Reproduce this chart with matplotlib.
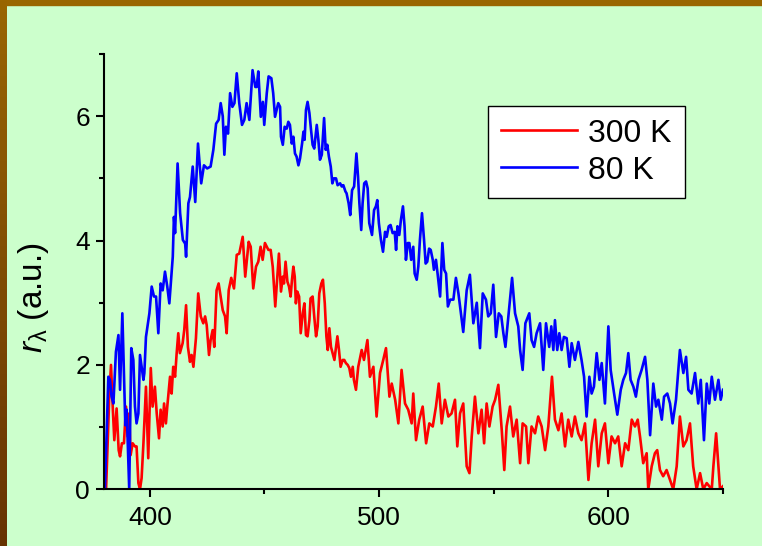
import numpy as np
import matplotlib
matplotlib.use("Agg")
import matplotlib.pyplot as plt
from matplotlib.colors import LinearSegmentedColormap
from matplotlib.patches import Rectangle
from matplotlib.ticker import MultipleLocator

plt.rcParams["font.family"] = ["Liberation Sans", "DejaVu Sans"]
plt.rcParams["mathtext.fontset"] = "custom"
plt.rcParams["mathtext.rm"] = "Liberation Sans"
plt.rcParams["mathtext.it"] = "Liberation Sans:italic"

# spectra: wavelength (nm) and r_lambda (a.u.)
wl_300 = [
    380.9, 381.45, 382.3, 383.05, 383.8, 384.5, 385.5, 386.4, 387.0, 387.8,
    388.7, 389.6, 390.3, 391.0, 391.6, 392.5, 393.5, 394.2, 395.0, 395.7,
    396.4, 397.2, 397.6, 398.3, 399.3, 400.4, 401.2, 402.2, 403.0, 404.0,
    404.7, 405.6, 406.2, 407.0, 407.6, 408.8, 409.5, 410.2, 411.0, 411.7,
    412.4, 413.1, 414.3, 415.0, 415.8, 416.6, 417.5, 418.2, 419.0, 420.1,
    421.1, 422.2, 423.3, 424.1, 424.8, 425.8, 426.5, 427.4, 428.1, 429.1,
    430.0, 430.9, 431.8, 432.8, 433.5, 434.4, 435.5, 436.7, 437.9, 439.0,
    440.5, 441.6, 443.1, 444.0, 445.1, 446.3, 447.3, 448.3, 449.2, 450.2,
    451.7, 452.7, 453.6, 454.7, 456.3, 457.2, 458.0, 458.5, 459.2, 460.0,
    460.7, 461.4, 462.0, 462.6, 463.2, 463.7, 464.3, 465.1, 465.8, 466.7,
    467.4, 468.1, 468.8, 469.6, 470.1, 471.0, 471.7, 472.5, 473.2, 473.9,
    474.8, 475.5, 476.3, 477.0, 477.6, 478.3, 479.0, 479.7, 480.5, 481.2,
    481.8, 482.5, 483.2, 484.1, 484.8, 485.5, 486.3, 487.0, 487.7, 488.5,
    489.0, 489.9, 490.9, 492.4, 493.4, 494.9, 496.0, 497.5, 498.9, 500.4,
    501.8, 503.0, 504.5, 505.5, 507.0, 508.4, 509.8, 511.3, 512.7, 514.2,
    514.9, 516.1, 517.5, 519.0, 520.5, 521.9, 523.4, 524.8, 526.0, 527.3,
    528.7, 530.2, 531.6, 533.1, 534.1, 535.3, 536.7, 538.2, 539.4, 540.4,
    541.8, 543.3, 544.7, 545.8, 546.9, 548.1, 549.5, 550.6, 552.0, 553.5,
    554.6, 555.6, 557.1, 558.5, 560.0, 561.5, 562.6, 564.1, 565.1, 566.5,
    568.0, 569.4, 570.9, 572.4, 573.8, 575.4, 576.7, 578.2, 579.6, 581.1,
    582.5, 584.0, 585.4, 586.9, 588.3, 589.8, 591.3, 592.7, 594.2, 595.6,
    597.1, 598.5, 600.0, 601.4, 602.9, 604.3, 605.8, 607.3, 608.7, 610.2,
    611.6, 612.8, 613.8, 615.2, 616.7, 617.4, 618.9, 620.3, 621.3, 622.5,
    623.9, 625.4, 626.9, 628.3, 629.8, 631.2, 632.7, 634.1, 635.6, 637.0,
    638.5, 640.0, 641.4, 642.9, 645.1, 645.8, 647.0, 648.0, 648.7, 650.0,
]
r_300 = [
    0.00, 0.58, 1.49, 2.00, 1.33, 0.79, 1.30, 0.63, 0.53, 0.74,
    0.74, 1.33, 0.85, 1.22, 0.55, 0.74, 0.69, 0.69, 0.10, 0.00,
    0.18, 0.74, 1.06, 1.65, 0.50, 1.95, 1.33, 1.65, 1.22, 0.82,
    1.28, 1.01, 1.38, 1.06, 1.33, 1.81, 1.54, 1.97, 1.81, 2.19,
    2.51, 2.19, 2.35, 2.56, 2.96, 2.29, 2.05, 2.16, 1.97, 2.43,
    3.15, 2.78, 2.67, 2.78, 2.64, 2.16, 2.40, 2.56, 2.29, 3.20,
    3.31, 3.10, 2.88, 2.78, 2.51, 3.20, 3.40, 3.23, 3.77, 3.79,
    4.06, 3.42, 3.98, 3.90, 3.23, 3.58, 3.66, 3.90, 3.69, 3.96,
    3.85, 3.85, 3.58, 2.94, 3.79, 3.18, 3.42, 3.31, 3.66, 3.34,
    3.26, 3.10, 3.37, 3.58, 3.42, 2.99, 3.18, 3.10, 2.51, 2.83,
    2.99, 2.48, 2.46, 2.72, 3.07, 3.10, 2.78, 2.46, 2.62, 3.15,
    3.31, 3.37, 2.99, 2.46, 2.24, 2.59, 2.29, 2.19, 2.08, 2.29,
    2.46, 2.24, 1.97, 2.08, 2.08, 2.03, 2.00, 1.95, 1.81, 1.97,
    1.76, 1.60, 1.97, 2.24, 2.08, 2.40, 1.81, 1.97, 1.17, 1.87,
    2.08, 2.27, 1.49, 1.70, 1.44, 1.06, 1.92, 1.38, 1.28, 1.06,
    1.54, 0.79, 1.12, 1.33, 0.74, 1.06, 1.01, 1.33, 1.70, 1.06,
    1.44, 1.17, 1.22, 1.44, 0.69, 1.22, 1.38, 0.37, 0.26, 0.85,
    1.49, 0.90, 1.28, 0.74, 1.38, 1.01, 1.33, 1.44, 1.68, 0.95,
    0.31, 1.01, 1.33, 0.85, 1.12, 0.42, 1.06, 1.01, 0.42, 1.01,
    0.90, 1.17, 1.01, 0.63, 1.01, 1.81, 1.12, 0.95, 1.22, 0.69,
    1.12, 0.85, 1.17, 0.90, 0.79, 1.06, 0.15, 0.74, 1.12, 0.37,
    0.90, 1.06, 0.42, 0.85, 0.74, 0.85, 0.37, 0.74, 0.63, 1.12,
    1.01, 1.12, 0.85, 0.42, 0.58, 0.00, 0.37, 0.58, 0.63, 0.31,
    0.21, 0.31, 0.15, 0.00, 0.37, 1.17, 0.69, 0.79, 1.06, 0.37,
    0.00, 0.26, 0.00, 0.10, 0.00, 0.37, 0.90, 0.37, 0.00, 0.05,
]

wl_80 = [
    380.4, 381.9, 382.6, 383.3, 384.1, 385.2, 386.3, 387.0, 388.0, 388.7,
    389.3, 389.9, 390.5, 391.0, 391.9, 392.8, 393.5, 394.2, 395.0, 395.7,
    396.4, 397.2, 397.6, 398.3, 399.8, 400.8, 401.8, 402.7, 403.7, 404.7,
    405.6, 406.6, 407.6, 408.5, 410.0, 410.5, 411.0, 412.1, 413.2, 414.4,
    415.4, 415.8, 416.8, 417.5, 418.7, 419.8, 421.0, 422.4, 423.6, 425.0,
    426.5, 427.7, 428.9, 430.0, 430.9, 431.8, 432.5, 433.2, 434.1, 435.0,
    436.0, 436.9, 437.9, 439.0, 440.2, 441.2, 442.2, 443.4, 444.8, 446.0,
    446.6, 447.3, 448.4, 449.3, 449.9, 451.0, 451.8, 453.0, 453.8, 454.6,
    456.0, 456.8, 457.2, 458.0, 458.8, 459.7, 460.4, 461.1, 461.9, 462.6,
    463.3, 464.0, 464.8, 465.5, 466.4, 467.0, 467.5, 468.1, 468.8, 469.6,
    470.3, 471.0, 471.7, 472.8, 473.5, 474.2, 475.0, 476.0, 476.7, 477.4,
    478.1, 478.9, 479.6, 480.3, 481.2, 481.9, 483.0, 483.7, 484.4, 485.3,
    485.8, 486.7, 487.4, 488.2, 489.1, 490.1, 490.8, 491.4, 492.2, 492.8,
    493.5, 494.3, 495.0, 495.7, 496.9, 497.8, 498.6, 499.2, 499.9, 500.8,
    501.7, 502.6, 503.3, 504.2, 505.0, 505.9, 506.8, 507.4, 508.0, 508.8,
    509.5, 510.4, 511.1, 511.7, 512.5, 513.2, 514.0, 514.9, 515.5, 516.4,
    517.1, 517.8, 518.7, 519.6, 520.3, 521.0, 521.8, 522.5, 523.4, 523.9,
    524.8, 525.5, 526.6, 527.6, 528.4, 529.2, 530.0, 531.0, 532.4, 533.5,
    534.6, 536.7, 538.2, 539.6, 541.1, 542.6, 544.0, 545.2, 546.6, 547.6,
    548.7, 549.8, 551.0, 552.2, 553.3, 554.2, 555.1, 556.4, 558.0, 559.3,
    560.7, 561.5, 562.6, 563.8, 565.5, 566.5, 567.6, 568.7, 570.2, 571.6,
    572.8, 574.2, 575.1, 576.0, 576.7, 577.7, 578.6, 579.6, 580.6, 581.8,
    583.0, 584.0, 585.4, 586.9, 588.3, 589.4, 590.5, 591.7, 592.7, 593.7,
    594.9, 596.1, 597.1, 598.5, 600.0, 601.0, 602.5, 603.9, 605.4, 606.5,
    607.7, 608.7, 609.7, 610.9, 612.0, 613.1, 614.5, 616.0, 617.0, 618.2,
    619.6, 620.8, 621.8, 623.3, 624.3, 625.7, 626.9, 628.0, 629.5, 631.2,
    632.7, 633.9, 634.9, 636.3, 637.8, 639.2, 640.3, 641.7, 642.9, 644.0,
    645.1, 646.5, 648.0, 649.0, 650.0,
]
r_80 = [
    0.00, 1.81, 1.76, 1.49, 1.38, 2.21, 2.48, 1.60, 2.83, 1.87,
    1.03, 1.28, 0.58, 0.00, 2.27, 2.08, 1.33, 1.06, 1.22, 2.16,
    1.97, 1.76, 1.87, 2.45, 2.83, 3.26, 3.10, 3.10, 2.51, 3.31,
    3.20, 3.50, 3.26, 2.99, 3.74, 4.38, 4.12, 5.24, 4.44, 4.01,
    3.95, 3.74, 4.60, 4.70, 5.19, 4.62, 5.56, 4.92, 5.21, 5.16,
    5.19, 5.46, 5.88, 5.94, 6.21, 6.00, 5.38, 5.83, 5.72, 6.37,
    6.15, 6.21, 6.69, 6.21, 5.86, 5.94, 6.21, 5.94, 6.74, 6.47,
    6.47, 6.72, 5.99, 6.23, 5.86, 6.37, 6.64, 6.61, 6.37, 5.99,
    6.21, 6.15, 5.67, 5.54, 5.83, 5.80, 5.91, 5.86, 5.56, 5.67,
    5.40, 5.35, 5.21, 5.32, 5.56, 5.75, 5.62, 6.10, 6.23, 6.05,
    5.78, 5.54, 5.48, 5.86, 5.62, 5.30, 5.38, 5.97, 5.46, 5.54,
    5.35, 5.19, 4.92, 5.00, 5.00, 4.89, 4.92, 4.87, 4.89, 4.79,
    4.76, 4.60, 4.41, 4.81, 4.87, 5.40, 5.03, 4.60, 4.17, 4.60,
    4.92, 4.95, 4.84, 4.28, 4.09, 4.49, 4.55, 4.65, 4.28, 4.01,
    3.82, 4.14, 4.06, 4.23, 4.25, 4.12, 4.14, 3.85, 4.23, 4.09,
    4.33, 4.55, 4.23, 3.69, 3.96, 3.96, 3.69, 3.90, 3.47, 3.37,
    3.58, 4.01, 4.44, 4.01, 3.63, 3.66, 3.87, 3.85, 3.69, 3.53,
    3.69, 3.47, 3.10, 3.96, 3.53, 3.47, 2.94, 3.05, 3.05, 3.40,
    3.15, 2.53, 3.20, 3.45, 2.67, 3.00, 2.27, 3.15, 3.05, 2.78,
    2.83, 3.29, 2.45, 2.83, 2.78, 2.51, 2.29, 2.78, 3.40, 2.83,
    2.62, 2.24, 1.92, 2.67, 2.83, 2.40, 2.29, 2.51, 2.67, 1.92,
    2.67, 2.29, 2.62, 2.24, 2.72, 2.24, 2.51, 2.24, 2.45, 2.43,
    1.97, 2.35, 2.08, 2.37, 2.08, 1.81, 1.17, 1.81, 1.54, 1.65,
    2.19, 1.76, 2.03, 1.38, 2.62, 1.92, 1.54, 1.20, 1.60, 1.76,
    1.87, 2.19, 1.76, 1.65, 1.49, 1.76, 1.92, 2.13, 1.76, 0.87,
    1.70, 1.33, 1.44, 1.12, 1.49, 1.54, 1.38, 1.06, 1.44, 2.24,
    1.87, 2.13, 1.60, 1.54, 1.87, 1.38, 1.76, 0.79, 1.70, 1.38,
    1.81, 1.44, 1.76, 1.44, 1.60,
]
assert len(wl_300) == len(r_300) and len(wl_80) == len(r_80)

bg_green = "#ccffcc"

fig = plt.figure(figsize=(7.62, 5.46), dpi=100, facecolor=bg_green)

# brown frame: solid strip on top, darkening strip on the left
fig.add_artist(Rectangle((0, 1 - 5 / 546), 1, 5 / 546, transform=fig.transFigure,
                         color="#996600", zorder=0))
edge_ax = fig.add_axes([0, 0, 7 / 762, 1])
edge_cmap = LinearSegmentedColormap.from_list("edge", ["#996600", "#663300"])
edge_ax.imshow(np.linspace(0, 1, 256).reshape(-1, 1), aspect="auto", cmap=edge_cmap)
edge_ax.axis("off")

ax = fig.add_axes([104 / 762, 1 - 489.3 / 546, 619 / 762, 435.3 / 546])
ax.set_facecolor(bg_green)
ax.plot(wl_300, r_300, color="#ff0000", lw=1.9, label="300 K")
ax.plot(wl_80, r_80, color="#0000ff", lw=1.9, label="80 K")

ax.set_xlim(380, 650)
ax.set_ylim(0, 7)
ax.xaxis.set_major_locator(MultipleLocator(100))
ax.xaxis.set_minor_locator(MultipleLocator(50))
ax.yaxis.set_major_locator(MultipleLocator(2))
ax.yaxis.set_minor_locator(MultipleLocator(1))

for side in ["top", "right"]:
    ax.spines[side].set_visible(False)
for side in ["left", "bottom"]:
    ax.spines[side].set_linewidth(1.5)
    ax.spines[side].set_color("black")

ax.tick_params(which="major", direction="out", length=6, width=1.5, labelsize=19)
ax.tick_params(which="minor", direction="out", length=3.5, width=1.5)
ax.tick_params(axis="x", which="major", pad=6)
ax.tick_params(axis="y", which="major", pad=4)

ax.set_ylabel(r"$r_{\mathrm{\lambda}}$ (a.u.)", fontsize=24)
ax.yaxis.set_label_coords(-0.086, 0.44)

leg = ax.legend(loc="upper left", bbox_to_anchor=(0.620, 0.881), borderaxespad=0,
                fontsize=23, fancybox=False, framealpha=1, edgecolor="black",
                handlelength=2.4, handletextpad=0.35, borderpad=0.4,
                labelspacing=0.22)
leg.get_frame().set_linewidth(1.0)

fig.savefig("out.png", dpi=100, facecolor=bg_green)
